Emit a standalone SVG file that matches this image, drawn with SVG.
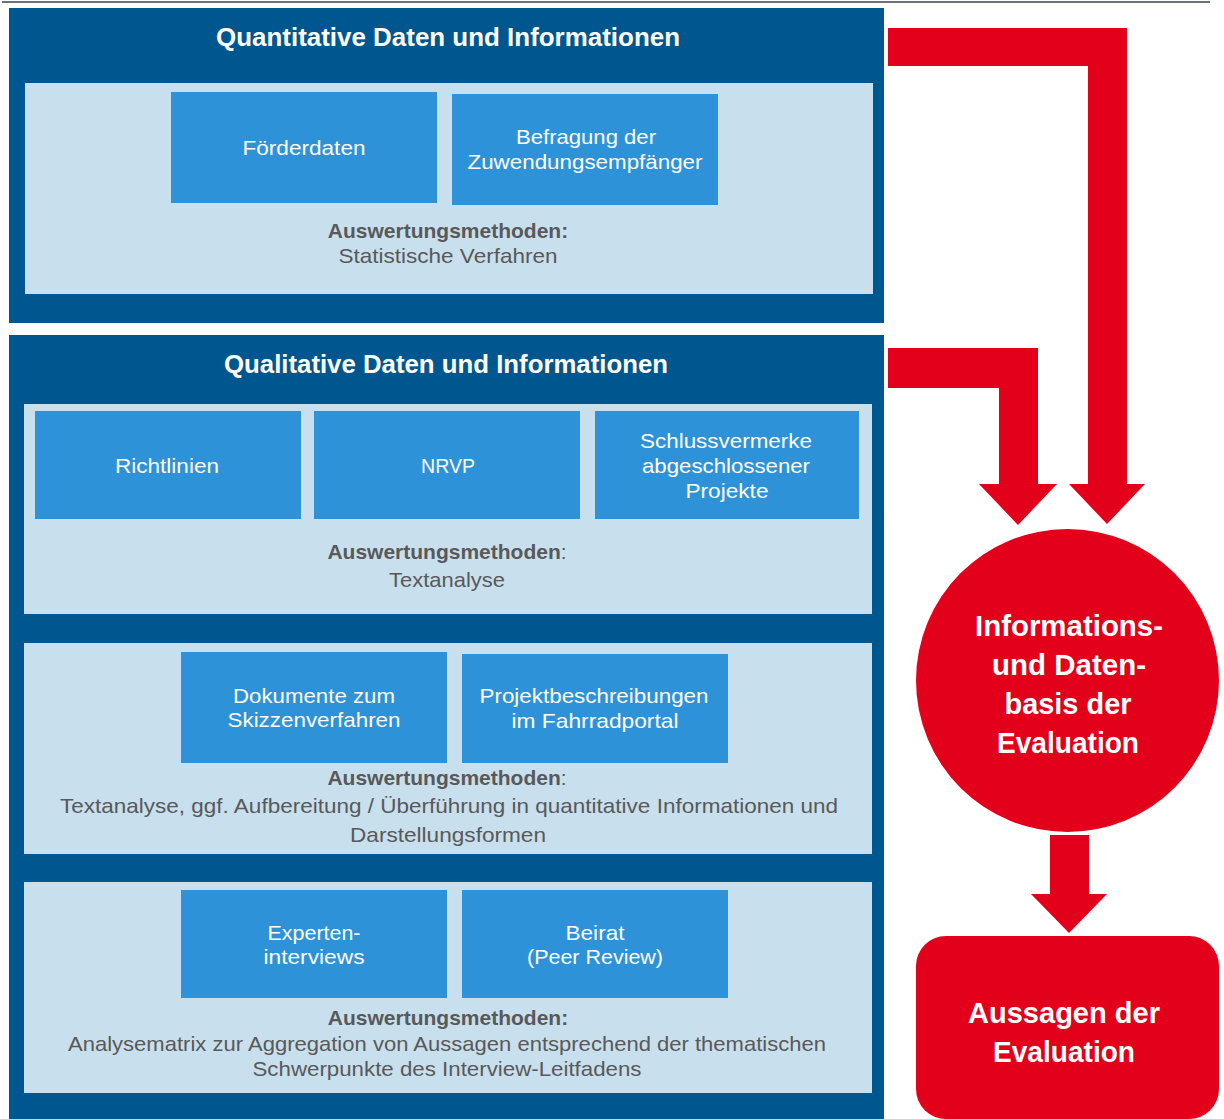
<svg xmlns="http://www.w3.org/2000/svg" width="1224" height="1119" viewBox="0 0 1224 1119">
<style>
.outer{fill:#00568e}
.panel{fill:#c8dfed}
.item{fill:#2e92d8}
.red{fill:#e2001a}
.title{font-family:"Liberation Sans",Arial,sans-serif;font-weight:bold;font-size:26px;fill:#ffffff;text-anchor:middle}
.it{font-family:"Liberation Sans",Arial,sans-serif;font-size:21px;fill:#ffffff;text-anchor:middle}
.mh{font-family:"Liberation Sans",Arial,sans-serif;font-size:21px;fill:#595959;text-anchor:middle}
.mb{font-weight:bold}
.rt{font-family:"Liberation Sans",Arial,sans-serif;font-weight:bold;font-size:29px;fill:#ffffff;text-anchor:middle}
</style>
<rect x="0" y="0" width="1224" height="1119" fill="#ffffff"/>
<line x1="2" y1="2" x2="1210" y2="2" stroke="#6b7079" stroke-width="2"/>

<g id="quantitative">
<rect class="outer" x="9" y="8" width="875" height="315"/>
<text class="title" x="448" y="46" textLength="464" lengthAdjust="spacingAndGlyphs">Quantitative Daten und Informationen</text>
<rect class="panel" x="25" y="83" width="848" height="211"/>
<g id="foerderdaten">
<rect class="item" x="171" y="92" width="266" height="111"/>
<text class="it" x="304" y="155" textLength="123" lengthAdjust="spacingAndGlyphs">Förderdaten</text>
</g>
<g id="befragung">
<rect class="item" x="452" y="94" width="266" height="111"/>
<text class="it" x="586" y="144" textLength="140" lengthAdjust="spacingAndGlyphs">Befragung der</text>
<text class="it" x="585" y="169" textLength="235" lengthAdjust="spacingAndGlyphs">Zuwendungsempfänger</text>
</g>
<text class="mh" x="448" y="238"><tspan class="mb">Auswertungsmethoden:</tspan></text>
<text class="mh" x="448" y="263" textLength="219" lengthAdjust="spacingAndGlyphs">Statistische Verfahren</text>
</g>

<g id="qualitative">
<rect class="outer" x="9" y="335" width="875" height="784"/>
<text class="title" x="446" y="373" textLength="444" lengthAdjust="spacingAndGlyphs">Qualitative Daten und Informationen</text>

<g id="panel-a">
<rect class="panel" x="24" y="404" width="848" height="210"/>
<g id="richtlinien">
<rect class="item" x="35" y="411" width="266" height="108"/>
<text class="it" x="167" y="473" textLength="104" lengthAdjust="spacingAndGlyphs">Richtlinien</text>
</g>
<g id="nrvp">
<rect class="item" x="314" y="411" width="266" height="108"/>
<text class="it" x="448" y="473" textLength="54" lengthAdjust="spacingAndGlyphs">NRVP</text>
</g>
<g id="schlussvermerke">
<rect class="item" x="595" y="411" width="264" height="108"/>
<text class="it" x="726" y="448" textLength="172" lengthAdjust="spacingAndGlyphs">Schlussvermerke</text>
<text class="it" x="726" y="473" textLength="168" lengthAdjust="spacingAndGlyphs">abgeschlossener</text>
<text class="it" x="727" y="498" textLength="83" lengthAdjust="spacingAndGlyphs">Projekte</text>
</g>
<text class="mh" x="447" y="559"><tspan class="mb">Auswertungsmethoden</tspan>:</text>
<text class="mh" x="447" y="587" textLength="116" lengthAdjust="spacingAndGlyphs">Textanalyse</text>
</g>

<g id="panel-b">
<rect class="panel" x="24" y="643" width="848" height="211"/>
<g id="dokumente">
<rect class="item" x="181" y="652" width="266" height="111"/>
<text class="it" x="314" y="703" textLength="162" lengthAdjust="spacingAndGlyphs">Dokumente zum</text>
<text class="it" x="314" y="727" textLength="173" lengthAdjust="spacingAndGlyphs">Skizzenverfahren</text>
</g>
<g id="projektbeschreibungen">
<rect class="item" x="462" y="654" width="266" height="109"/>
<text class="it" x="594" y="703" textLength="229" lengthAdjust="spacingAndGlyphs">Projektbeschreibungen</text>
<text class="it" x="595" y="728" textLength="167" lengthAdjust="spacingAndGlyphs">im Fahrradportal</text>
</g>
<text class="mh" x="447" y="785"><tspan class="mb">Auswertungsmethoden</tspan>:</text>
<text class="mh" x="449" y="813" textLength="778" lengthAdjust="spacingAndGlyphs">Textanalyse, ggf. Aufbereitung / Überführung in quantitative Informationen und</text>
<text class="mh" x="448" y="842" textLength="196" lengthAdjust="spacingAndGlyphs">Darstellungsformen</text>
</g>

<g id="panel-c">
<rect class="panel" x="24" y="882" width="848" height="211"/>
<g id="experten">
<rect class="item" x="181" y="890" width="266" height="108"/>
<text class="it" x="314" y="940" textLength="93" lengthAdjust="spacingAndGlyphs">Experten-</text>
<text class="it" x="314" y="964" textLength="101" lengthAdjust="spacingAndGlyphs">interviews</text>
</g>
<g id="beirat">
<rect class="item" x="462" y="890" width="266" height="108"/>
<text class="it" x="595" y="940" textLength="59" lengthAdjust="spacingAndGlyphs">Beirat</text>
<text class="it" x="595" y="964" textLength="136" lengthAdjust="spacingAndGlyphs">(Peer Review)</text>
</g>
<text class="mh" x="448" y="1025"><tspan class="mb">Auswertungsmethoden:</tspan></text>
<text class="mh" x="447" y="1051" textLength="758" lengthAdjust="spacingAndGlyphs">Analysematrix zur Aggregation von Aussagen entsprechend der thematischen</text>
<text class="mh" x="447" y="1076" textLength="389" lengthAdjust="spacingAndGlyphs">Schwerpunkte des Interview-Leitfadens</text>
</g>
</g>

<g id="connectors">
<polygon class="red" points="888,28 1127,28 1127,484 1145,484 1107,524 1069,484 1088,484 1088,66 888,66"/>
<polygon class="red" points="888,348 1038,348 1038,484 1057,484 1018,525 979,484 999,484 999,388 888,388"/>
<polygon class="red" points="1050,835 1089,835 1089,894 1107,894 1069,933 1031,894 1050,894"/>
</g>

<g id="datenbasis">
<circle class="red" cx="1067.5" cy="680.5" r="151.5"/>
<text class="rt" x="1069" y="636" textLength="188" lengthAdjust="spacingAndGlyphs">Informations-</text>
<text class="rt" x="1069" y="675" textLength="154" lengthAdjust="spacingAndGlyphs">und Daten-</text>
<text class="rt" x="1068" y="714" textLength="127" lengthAdjust="spacingAndGlyphs">basis der</text>
<text class="rt" x="1068" y="753" textLength="142" lengthAdjust="spacingAndGlyphs">Evaluation</text>
</g>

<g id="aussagen">
<rect class="red" x="916" y="936" width="303" height="183" rx="30" ry="30"/>
<text class="rt" x="1064" y="1023" textLength="192" lengthAdjust="spacingAndGlyphs">Aussagen der</text>
<text class="rt" x="1064" y="1062" textLength="142" lengthAdjust="spacingAndGlyphs">Evaluation</text>
</g>
</svg>
